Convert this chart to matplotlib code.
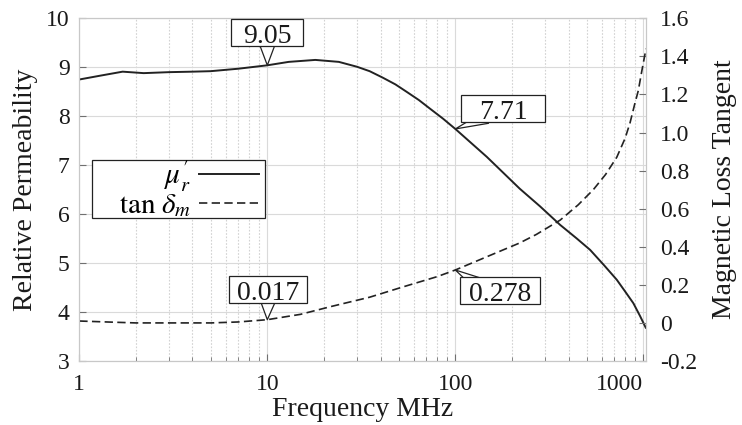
import matplotlib
matplotlib.use('Agg')
import matplotlib.pyplot as plt
from matplotlib.path import Path
from matplotlib.patches import Rectangle
from matplotlib.ticker import LogLocator, NullFormatter, FixedLocator, FixedFormatter

plt.rcParams['font.family'] = 'serif'
plt.rcParams['font.serif'] = ['Liberation Serif', 'DejaVu Serif']
plt.rcParams['mathtext.fontset'] = 'stix'

# ---- data ----
mu_freq = [1, 1.3, 1.7, 2.2, 3, 4, 5, 7, 10, 13, 18, 24, 30, 35, 41, 48, 55, 64, 73, 86,
           100, 147, 220, 282, 361, 440, 521, 620, 722, 800, 885, 960, 1030]
mu_r = [8.75, 8.83, 8.91, 8.88, 8.90, 8.91, 8.92, 8.97, 9.04, 9.11, 9.15, 9.11, 9.01,
        8.92, 8.79, 8.65, 8.50, 8.33, 8.16, 7.95, 7.74, 7.17, 6.52, 6.16, 5.78, 5.51,
        5.27, 4.95, 4.66, 4.42, 4.18, 3.92, 3.68]

tan_freq = [1, 1.5, 2, 3, 5, 7, 10, 15, 22, 35, 53, 80, 100, 180, 220, 270, 361, 450,
            542, 630, 722, 800, 849, 900, 940, 980, 1033]
tan_d = [0.01, 0.004, 0.0, 0.0, 0.0, 0.005, 0.017, 0.045, 0.087, 0.135, 0.19, 0.243,
         0.278, 0.384, 0.42, 0.465, 0.54, 0.62, 0.70, 0.78, 0.87, 0.97, 1.05, 1.15,
         1.22, 1.32, 1.44]

x_ticks = [1, 10, 100, 1000]
x_tick_labels = ['1', '10', '100', '1000']
left_ticks = [3, 4, 5, 6, 7, 8, 9, 10]
right_ticks = [-0.2, 0, 0.2, 0.4, 0.6, 0.8, 1.0, 1.2, 1.4, 1.6]
right_tick_labels = ['-0.2', '0', '0.2', '0.4', '0.6', '0.8', '1.0', '1.2', '1.4', '1.6']

mu_callout_freq = [10, 100]
mu_callout_text = ['9.05', '7.71']
tan_callout_freq = [10, 100]
tan_callout_text = ['0.017', '0.278']

# ---- figure ----
W, H = 742, 425
fig = plt.figure(figsize=(W / 100, H / 100), dpi=100)
L, R, T, B = 79.3, 646, 18.3, 361
ax = fig.add_axes([L / W, 1 - B / H, (R - L) / W, (B - T) / H])
ax2 = ax.twinx()

line_col = '#222222'
spine_col = '#c8c8c8'
tick_col = '#707070'
text_col = '#1a1a1a'

l1, = ax.plot(mu_freq, mu_r, color=line_col, lw=1.4, label=r"$\mu^{\prime}_r$")
l2, = ax2.plot(tan_freq, tan_d, color=line_col, lw=1.2, dashes=(5, 2.6),
               label=r"$\tan\,\delta_m$")

ax.set_xscale('log')
ax.set_xlim(1, 1033)
ax.set_ylim(3, 10)
ax2.set_ylim(-0.2, 1.6)

ax.xaxis.set_major_locator(FixedLocator(x_ticks))
ax.xaxis.set_major_formatter(FixedFormatter(x_tick_labels))
ax.xaxis.set_minor_locator(LogLocator(base=10, subs=range(2, 10)))
ax.xaxis.set_minor_formatter(NullFormatter())
ax.set_yticks(left_ticks)
ax2.set_yticks(right_ticks)
ax2.set_yticklabels(right_tick_labels)

ax.grid(which='major', color='#dadada', lw=0.8, ls='-')
ax.grid(which='minor', axis='x', color='#d2d2d2', lw=0.8, ls=(0, (1.5, 1.5)))
ax.set_axisbelow(True)

for a in (ax, ax2):
    for s in a.spines.values():
        s.set_color(spine_col)
        s.set_linewidth(0.8)

ax.tick_params(axis='both', which='major', direction='in', length=5, color=tick_col,
               labelsize=17, labelcolor=text_col)
ax.tick_params(axis='y', pad=7)
ax.tick_params(axis='x', pad=9)
ax.tick_params(axis='x', which='minor', direction='in', length=3, color=tick_col)
ax2.tick_params(axis='y', direction='in', length=5, color=tick_col, labelsize=17,
                labelcolor=text_col, pad=10)
xt_labels = ax.get_xticklabels()
xt_labels[-1].set_horizontalalignment('right')

ax.set_xlabel('Frequency MHz', fontsize=20, labelpad=2, color=text_col)
ax.set_ylabel('Relative Permeability', fontsize=20, labelpad=6, color=text_col)
ax2.set_ylabel('Magnetic Loss Tangent', fontsize=20, labelpad=11, color=text_col)

# ---- callouts ----
def make_box(box_w, half_h, lift):
    def box(x0, y0, width, height, mutation_size):
        cx = x0 + width / 2
        cy = y0 + height / 2 + lift
        hw = box_w / 2
        verts = [(cx - hw, cy - half_h), (cx + hw, cy - half_h), (cx + hw, cy + half_h),
                 (cx - hw, cy + half_h), (cx - hw, cy - half_h)]
        return Path(verts, closed=True)
    return box

def callout(axis, xy, text, offset, tail, box_w, relpos):
    axis.annotate(text, xy=xy, xytext=offset, textcoords='offset pixels',
                  ha='center', va='center', fontsize=20, color=text_col, zorder=10,
                  bbox=dict(boxstyle=make_box(box_w, 13.5, 4), fc='white', ec='#222222',
                            lw=0.9),
                  arrowprops=dict(arrowstyle='wedge,tail_width=%.2f,shrink_factor=0.5' % tail,
                                  fc='white', ec='#222222', lw=0.9, patchA=None,
                                  shrinkA=0, shrinkB=0, relpos=relpos))

def mu_to_right(v):
    return (v - 3) / 7 * 1.8 - 0.2

mu_offsets = [(0, 29), (48, 16.5)]
mu_tails = [0.85, 0.45]
mu_box_w = [72, 84]
mu_relpos = [(0.5, 0.6), (0.15, 0.3)]
for f, t, off, tw, bw, rp in zip(mu_callout_freq, mu_callout_text, mu_offsets, mu_tails,
                                 mu_box_w, mu_relpos):
    callout(ax2, (f, mu_to_right(mu_r[mu_freq.index(f)])), t, off, tw, bw, rp)
tan_offsets = [(1, 26.5), (45, -25)]
tan_tails = [0.85, 0.45]
tan_box_w = [78, 80]
tan_relpos = [(0.5, 0.6), (0.15, 0.95)]
for f, t, off, tw, bw, rp in zip(tan_callout_freq, tan_callout_text, tan_offsets, tan_tails,
                                 tan_box_w, tan_relpos):
    callout(ax2, (f, tan_d[tan_freq.index(f)]), t, off, tw, bw, rp)

# ---- legend ----
bx0, by0, bx1, by1 = 92, 160, 265, 218
ax2.add_patch(Rectangle(((bx0 - L) / (R - L), 1 - (by1 - T) / (B - T)),
                        (bx1 - bx0) / (R - L), (by1 - by0) / (B - T),
                        transform=ax2.transAxes, fc='white', ec='#222222', lw=0.9,
                        zorder=4, clip_on=False))
leg = ax2.legend(handles=[l1, l2], loc='upper right',
                 bbox_to_anchor=((259 - L) / (R - L), 1 - (159 - T) / (B - T)),
                 borderaxespad=0, borderpad=0, markerfirst=False, fontsize=21,
                 frameon=False, handlelength=2.05, handletextpad=0.28,
                 labelspacing=-0.08)
leg.set_zorder(6)

fig.savefig('out.png', dpi=100)
